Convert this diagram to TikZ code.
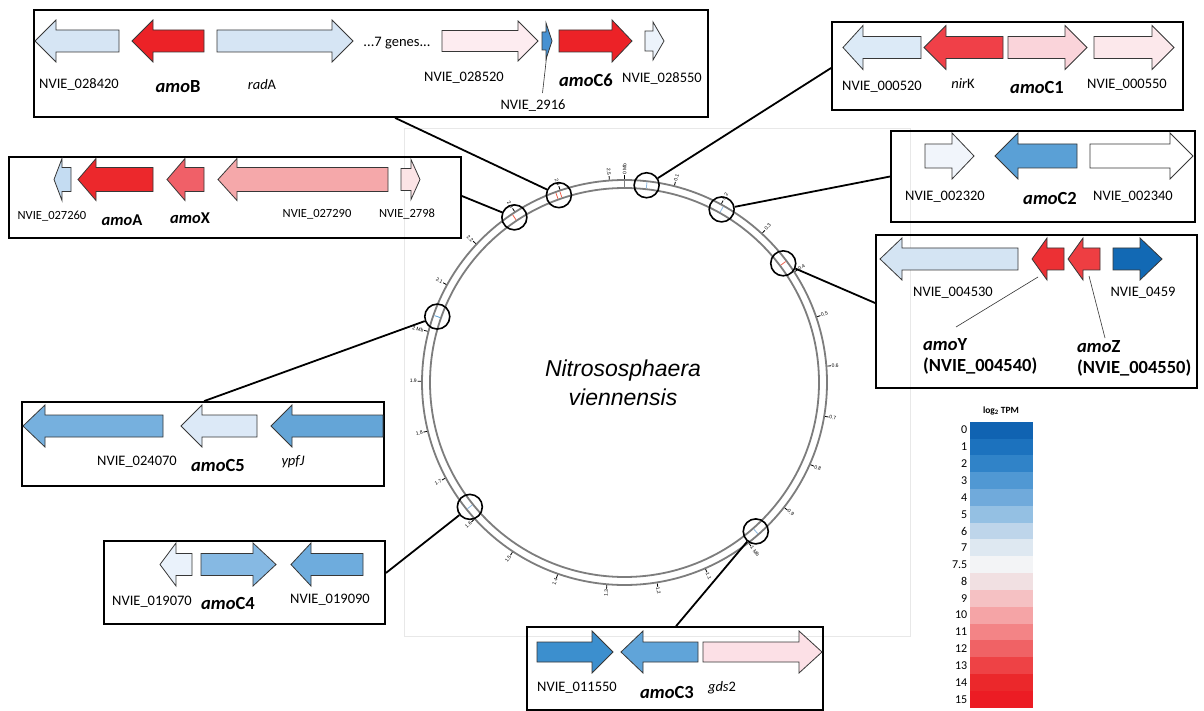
\documentclass[tikz,border=0pt]{standalone}
\usepackage{fontspec}
\setmainfont{Carlito}
\newfontfamily\arialf{Liberation Sans}
\usetikzlibrary{calc}
% gene colours
\definecolor{gOut}{RGB}{55,55,55}
\definecolor{cA}{RGB}{214,229,244}
\definecolor{cRed}{RGB}{236,34,39}
\definecolor{cPinkVL}{RGB}{253,236,240}
\definecolor{cBlueM}{RGB}{70,145,210}
\definecolor{cVLB}{RGB}{236,243,251}
\definecolor{c520}{RGB}{220,234,247}
\definecolor{cNir}{RGB}{240,64,72}
\definecolor{cC1}{RGB}{250,212,218}
\definecolor{c550}{RGB}{252,232,235}
\definecolor{c2320}{RGB}{241,245,251}
\definecolor{cC2}{RGB}{90,160,214}
\definecolor{c4530}{RGB}{212,228,243}
\definecolor{cY}{RGB}{236,48,52}
\definecolor{cZ}{RGB}{238,62,66}
\definecolor{c0459}{RGB}{18,105,180}
\definecolor{c7260}{RGB}{196,220,242}
\definecolor{cAmoA}{RGB}{236,40,44}
\definecolor{cX}{RGB}{240,96,104}
\definecolor{c7290}{RGB}{245,168,170}
\definecolor{c2798}{RGB}{252,228,230}
\definecolor{c4070}{RGB}{118,176,222}
\definecolor{cC5}{RGB}{220,233,247}
\definecolor{cYpf}{RGB}{100,165,215}
\definecolor{c9070}{RGB}{234,242,251}
\definecolor{cC4}{RGB}{134,185,227}
\definecolor{c9090}{RGB}{110,172,221}
\definecolor{c1550}{RGB}{60,143,206}
\definecolor{cC3}{RGB}{96,164,217}
\definecolor{cGds}{RGB}{252,224,230}
\definecolor{ringC}{RGB}{125,125,125}
\definecolor{frameC}{RGB}{232,232,232}
\definecolor{mkBlue}{RGB}{140,185,225}
\definecolor{mkRed}{RGB}{240,95,75}
% legend colours
\definecolor{L0}{RGB}{16,99,178}
\definecolor{L1}{RGB}{28,114,190}
\definecolor{L2}{RGB}{48,131,200}
\definecolor{L3}{RGB}{80,152,211}
\definecolor{L4}{RGB}{112,170,219}
\definecolor{L5}{RGB}{148,192,227}
\definecolor{L6}{RGB}{190,213,234}
\definecolor{L7}{RGB}{222,232,241}
\definecolor{L8}{RGB}{243,244,246}
\definecolor{L9}{RGB}{241,224,226}
\definecolor{L10}{RGB}{245,193,195}
\definecolor{L11}{RGB}{245,164,166}
\definecolor{L12}{RGB}{243,132,134}
\definecolor{L13}{RGB}{240,98,101}
\definecolor{L14}{RGB}{238,66,69}
\definecolor{L15}{RGB}{235,40,43}
\definecolor{L16}{RGB}{236,28,36}
% gene arrow: colour, tail x, head-base x, tip x, y, body half, head half
\newcommand{\gn}[7]{\filldraw[gene,fill=#1] ({#2},{#5-#6}) -- ({#3},{#5-#6}) -- ({#3},{#5-#7}) -- ({#4},{#5}) -- ({#3},{#5+#7}) -- ({#3},{#5+#6}) -- ({#2},{#5+#6}) -- cycle;}
\newcommand{\amo}[1]{{\bfseries\itshape amo}{\bfseries #1}}
\tikzset{
  gene/.style={draw=gOut, line width=0.8pt},
  panel/.style={draw=black, line width=1.8pt, inner sep=0pt, rectangle},
  conn/.style={draw=black, line width=1.8pt},
  marker/.style={circle, draw=black, line width=1.6pt, minimum size=25pt, inner sep=0pt},
  lab/.style={font=\fontsize{14.5}{16}\selectfont, inner sep=0pt},
  labs/.style={font=\fontsize{12.5}{14}\selectfont, inner sep=0pt},
  blab/.style={font=\fontsize{18.5}{20}\selectfont, inner sep=0pt},
  blabs/.style={font=\fontsize{16.5}{18}\selectfont, inner sep=0pt},
  ticklab/.style={font=\arialf\fontsize{5}{5.5}\selectfont, text=black, inner sep=0.3pt},
  leglab/.style={font=\fontsize{12}{12}\selectfont, inner sep=0pt, anchor=east},
  lead/.style={draw=black!80, line width=0.6pt},
}
\begin{document}
\begin{tikzpicture}[x=1pt,y=-1pt]
\useasboundingbox (0,0) rectangle (1204,711);
\fill[white] (0,0) rectangle (1204,711);
% faint frame round the genome map
\draw[frameC, line width=0.8pt] (404,128) rectangle (910,636);

% ---------- genome ring ----------
\begin{scope}[shift={(624.5,382.5)}]
  \coordinate (ctr) at (0,0);
  \draw[ringC, line width=1.8pt] (ctr) circle (202.5pt);
  \draw[ringC, line width=1.8pt] (ctr) circle (194.5pt);
  \draw[ringC, line width=1.4pt] (-90:194.5) -- (-90:202.5);
  % ticks and labels, right half
  \foreach \k/\lab in {0/0 Mb,1/0.1,2/0.2,3/0.3,4/0.4,5/0.5,6/0.6,7/0.7,8/0.8,9/0.9,10/1 Mb,11/1.1,12/1.2}{
    \pgfmathsetmacro\th{\k*14.229}
    \pgfmathsetmacro\aa{\th-90}
    \pgfmathsetmacro\rr{90-\th}
    \draw[black, line width=0.8pt] (\aa:203.5) -- (\aa:207);
    \node[ticklab, anchor=west, rotate=\rr] at (\aa:207.3) {\lab};
  }
  % ticks and labels, left half
  \foreach \k/\lab in {13/1.3,14/1.4,15/1.5,16/1.6,17/1.7,18/1.8,19/1.9,20/2 Mb,21/2.1,22/2.2,23/2.3,24/2.4,25/2.5}{
    \pgfmathsetmacro\th{\k*14.229}
    \pgfmathsetmacro\aa{\th-90}
    \pgfmathsetmacro\rr{270-\th}
    \draw[black, line width=0.8pt] (\aa:203.5) -- (\aa:207);
    \node[ticklab, anchor=east, rotate=\rr] at (\aa:207.3) {\lab};
  }
  % coloured gene marks on the ring
  \foreach \a/\c in {-83.6/mkBlue,-60.7/mkBlue,-36.9/mkRed,250.1/mkRed,251.3/mkRed,236.3/mkRed,199.4/cC2,141.2/mkBlue,48.6/mkBlue}{
    \draw[\c, line width=0.8pt] (\a:195.5) -- (\a:201.5);
  }
  % locus markers
  \node[marker] (m1) at (-83.6:198.5) {};
  \node[marker] (m2) at (-60.7:198.5) {};
  \node[marker] (m3) at (-36.9:198.5) {};
  \node[marker] (m4) at (250.7:198.5) {};
  \node[marker] (m5) at (236.3:198.5) {};
  \node[marker] (m6) at (199.4:198.5) {};
  \node[marker] (m7) at (141.2:198.5) {};
  \node[marker] (m8) at (48.6:198.5) {};
\end{scope}

\node[font=\arialf\itshape\fontsize{23}{29}\selectfont, align=center, inner sep=0pt] (title) at (623,383) {Nitrososphaera\\viennensis};

% ---------- panels ----------
\node[panel, minimum width=674pt, minimum height=107pt] (boxB) at (371,63.5) {};
\node[panel, minimum width=351pt, minimum height=88pt] (boxC1) at (1007.5,66) {};
\node[panel, minimum width=304pt, minimum height=91pt] (boxC2) at (1043,176.5) {};
\node[panel, minimum width=321pt, minimum height=153pt] (boxYZ) at (1036.5,311.5) {};
\node[panel, minimum width=452pt, minimum height=81pt] (boxA) at (235,197.5) {};
\node[panel, minimum width=362pt, minimum height=84pt] (boxC5) at (203,444) {};
\node[panel, minimum width=281pt, minimum height=83pt] (boxC4) at (244.5,582.5) {};
\node[panel, minimum width=296pt, minimum height=83pt] (boxC3) at (675,668.5) {};

% ---------- connectors ----------
\draw[conn] ([xshift=362pt]boxB.south west) -- (m4);
\draw[conn] ([yshift=-2pt]boxC1.west) -- (m1);
\draw[conn] (boxC2.west) -- (m2);
\draw[conn] ([yshift=8.5pt]boxYZ.west) -- (m3);
\draw[conn] ([yshift=1.5pt]boxA.east) -- (m5);
\draw[conn] ([xshift=183pt]boxC5.north west) -- (m6);
\draw[conn] ([yshift=9.5pt]boxC4.east) -- (m7);
\draw[conn] ([xshift=150pt]boxC3.north west) -- (m8);

% ---------- panel B ----------
\gn{cA}{119}{56}{35}{41}{11}{21}
\gn{cRed}{204}{153}{132}{41}{11}{21}
\gn{cA}{217}{332}{353}{41}{11}{21}
\gn{cPinkVL}{442}{518}{538}{41}{10.5}{20}
\gn{cBlueM}{542}{546}{552}{41}{9}{18}
\gn{cRed}{559}{612}{632}{41}{11}{21}
\gn{cVLB}{645}{653}{664}{41}{10}{19}
\node[lab] (tB0) at (397,43) {...7 genes...};
\node[lab] (tB1) at (79,85) {NVIE\_028420};
\node[blab] (tB2) at (178,87) {\amo{B}};
\node[lab] (tB3) at (262,85) {\textit{rad}A};
\node[lab] (tB4) at (464,78) {NVIE\_028520};
\node[lab] (tB5) at (533,106) {NVIE\_2916};
\node[blab] (tB6) at (586,80) {\amo{C6}};
\node[lab] (tB7) at (662,79) {NVIE\_028550};
\draw[lead] (546.7,56) -- (542.5,93);

% ---------- panel C1 ----------
\gn{c520}{921}{863}{843}{47.5}{11}{22}
\gn{cNir}{1003}{946}{924}{47.5}{11}{22}
\gn{cC1}{1008}{1065}{1087}{47.5}{11}{22}
\gn{c550}{1094}{1152}{1174}{47.5}{11}{22}
\node[lab] (tC1a) at (882,87) {NVIE\_000520};
\node[lab] (tC1b) at (963,84) {\textit{nir}K};
\node[blab] (tC1c) at (1037,88) {\amo{C1}};
\node[lab] (tC1d) at (1127,85) {NVIE\_000550};

% ---------- panel C2 ----------
\gn{c2320}{925}{952}{974}{156}{12}{23}
\gn{cC2}{1077}{1018}{995}{156}{12}{23}
\gn{white}{1090}{1170}{1193}{156}{12}{23}
\node[lab] (tC2a) at (945,197) {NVIE\_002320};
\node[blab] (tC2b) at (1050,199) {\amo{C2}};
\node[lab] (tC2c) at (1133,197) {NVIE\_002340};

% ---------- panel amoY / amoZ ----------
\gn{c4530}{1018}{902}{880}{259}{11}{21}
\gn{cY}{1064}{1047}{1032}{259}{11}{21}
\gn{cZ}{1100}{1083}{1068}{259}{11}{21}
\gn{c0459}{1113}{1140}{1162}{259}{11}{21}
\node[lab] (tYa) at (953,293) {NVIE\_004530};
\node[lab] (tYb) at (1143,293) {NVIE\_0459};
\node[blab, anchor=west] (tYc) at (923,345) {\amo{Y}};
\node[blab, anchor=west, font=\fontsize{18.5}{20}\selectfont\bfseries] (tYd) at (923,366) {(NVIE\_004540)};
\node[blab, anchor=west] (tZc) at (1077,347) {\amo{Z}};
\node[blab, anchor=west, font=\fontsize{18.5}{20}\selectfont\bfseries] (tZd) at (1077,368) {(NVIE\_004550)};
\draw[lead] (1038,277) -- (956,327);
\draw[lead] (1089,276) -- (1105,338);

% ---------- panel amoA ----------
\gn{c7260}{71}{62}{54}{179.5}{12}{21}
\gn{cAmoA}{153}{96}{78}{179.5}{12}{21}
\gn{cX}{204}{185}{167}{179.5}{12}{21}
\gn{c7290}{388}{237}{218}{179.5}{12}{21}
\gn{c2798}{401}{411}{420}{179.5}{11}{20}
\node[labs] (tAa) at (52,216) {NVIE\_027260};
\node[blabs] (tAb) at (122,220) {\amo{A}};
\node[blabs] (tAc) at (190,218) {\amo{X}};
\node[labs] (tAd) at (317,214) {NVIE\_027290};
\node[labs] (tAe) at (407,214) {NVIE\_2798};

% ---------- panel C5 ----------
\gn{c4070}{163}{45}{23}{426}{11}{21}
\gn{cC5}{257}{202}{181}{426}{11}{21}
\gn{cYpf}{383}{292}{271}{426}{11}{21}
\node[lab] (tC5a) at (137,462) {NVIE\_024070};
\node[blab] (tC5b) at (218,465) {\amo{C5}};
\node[lab] (tC5c) at (293,462) {\textit{ypfJ}};

% ---------- panel C4 ----------
\gn{c9070}{192}{176}{160}{564.5}{11}{21.5}
\gn{cC4}{201}{253}{276}{564.5}{11}{21.5}
\gn{c9090}{363}{311}{291}{564.5}{11}{21.5}
\node[lab] (tC4a) at (152,602) {NVIE\_019070};
\node[blab] (tC4b) at (228,603) {\amo{C4}};
\node[lab] (tC4c) at (330,600) {NVIE\_019090};

% ---------- panel C3 ----------
\gn{c1550}{537}{592}{613}{652}{10}{21}
\gn{cC3}{698}{643}{621}{652}{10}{21}
\gn{cGds}{703}{799}{822}{652}{10}{21}
\node[lab] (tC3a) at (577,688) {NVIE\_011550};
\node[blab] (tC3b) at (667,692) {\amo{C3}};
\node[lab] (tC3c) at (722,688) {\textit{gds}2};

% ---------- legend ----------
\node[font=\fontsize{9.5}{11}\selectfont\bfseries, inner sep=0pt] (legT) at (1001,411) {log\textsubscript{2} TPM};
\foreach \i/\v in {0/0,1/1,2/2,3/3,4/4,5/5,6/6,7/7,8/7.5,9/8,10/9,11/10,12/11,13/12,14/13,15/14,16/15}{
  \fill[L\i] (970,{421.7+\i*16.82}) rectangle (1033,{421.7+(\i+1)*16.82});
  \node[leglab] at (967.5,{421.7+(\i+0.5)*16.82}) {\v};
}
\end{tikzpicture}
\end{document}
